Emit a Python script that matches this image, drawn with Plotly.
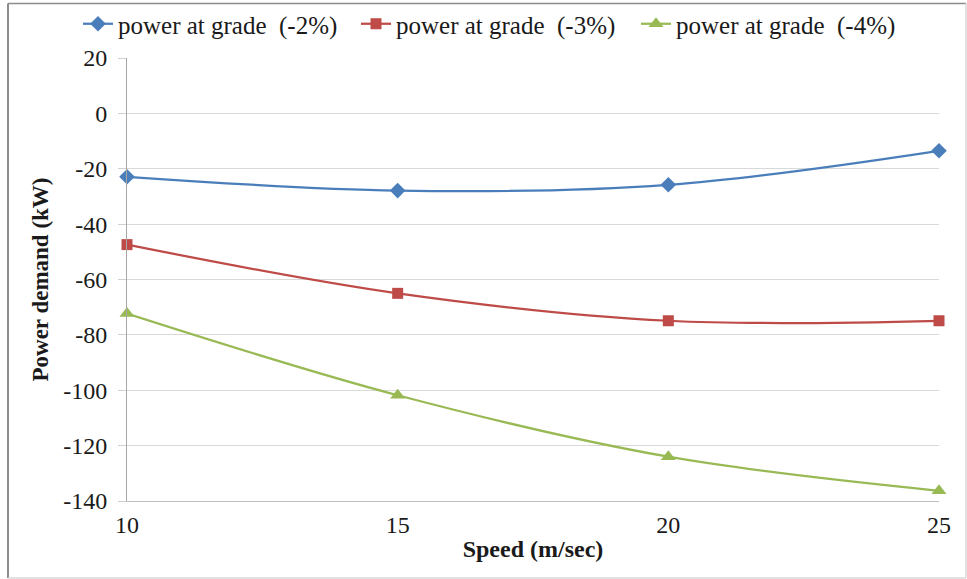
import plotly.graph_objects as go

# Speed (m/sec) and power demand (kW) on three downhill grades
speed = [10, 15, 20, 25]
power_grade_2 = [-22.9, -27.9, -25.8, -13.5]
power_grade_3 = [-47.4, -65.0, -74.9, -74.9]
power_grade_4 = [-72.3, -101.8, -124.0, -136.3]

series_names = ["power at grade\u00a0\u00a0(-2%)", "power at grade\u00a0\u00a0(-3%)", "power at grade\u00a0\u00a0(-4%)"]
y_ticks = [20, 0, -20, -40, -60, -80, -100, -120, -140]
x_ticks = [10, 15, 20, 25]

FONT = "Liberation Serif"
TXT = "#1a1a1a"

styles = [
    dict(color="#4a7ebb", symbol="diamond", size=12),
    dict(color="#be4b48", symbol="square", size=11),
    dict(color="#98b954", symbol="triangle-up", size=13),
]

# Plot area edges in pixels
L, R, T, B = 127, 939, 58, 501
W, H = 967, 579
pw, ph = R - L, B - T


def px(x):
    return (x - L) / pw


def py(y):
    return (B - y) / ph


legend_ids = ["legend", "legend2", "legend3"]
legend_left = [78, 356, 636]

fig = go.Figure()
for name, values, st, lid in zip(series_names, [power_grade_2, power_grade_3, power_grade_4], styles, legend_ids):
    fig.add_trace(go.Scatter(
        x=speed, y=values, name=name, mode="lines+markers",
        line=dict(color=st["color"], width=2.25, shape="spline", smoothing=1),
        marker=dict(symbol=st["symbol"], size=st["size"], color=st["color"]),
        legend=lid, cliponaxis=False,
    ))

legend_style = dict(
    orientation="h", xanchor="left", yanchor="middle",
    font=dict(family=FONT, size=25, color=TXT),
    bgcolor="rgba(0,0,0,0)", itemwidth=30,
)

layout_legends = {}
for lid, lx in zip(legend_ids, legend_left):
    layout_legends[lid] = dict(legend_style, x=px(lx), y=py(24))

tick_font = dict(family=FONT, size=24, color=TXT)
title_font = dict(family=FONT, size=24, color=TXT)

fig.update_layout(
    template="none",
    width=W, height=H,
    margin=dict(l=L, r=W - R, t=T, b=H - B, autoexpand=False),
    paper_bgcolor="white", plot_bgcolor="white",
    font=dict(family=FONT, size=24, color=TXT),
    showlegend=True,
    **layout_legends,
    xaxis=dict(
        range=[10, 25], tickvals=x_ticks, ticktext=[str(v) for v in x_ticks],
        showgrid=False, zeroline=False,
        showline=True, linecolor="#bfbfbf", linewidth=1,
        ticks="", ticklabelstandoff=2, tickfont=tick_font,
        title=dict(text="<b>Speed (m/sec)</b>", font=title_font, standoff=3),
    ),
    yaxis=dict(
        range=[-140, 20], tickvals=y_ticks, ticktext=[str(v) for v in y_ticks],
        showgrid=True, gridcolor="#d9d9d9", gridwidth=1, zeroline=False,
        showline=True, linecolor="#a6a6a6", linewidth=1,
        ticks="outside", ticklen=8, tickcolor="#d0d0d0",
        ticklabelstandoff=6, tickfont=tick_font,
        title=dict(text="<b>Power demand (kW)</b>", font=dict(title_font, size=23), standoff=8),
    ),
    shapes=[
        # chart frame: darker top/left, lighter right/bottom
        dict(type="line", xref="paper", yref="paper", x0=px(8), x1=px(966), y0=py(3.5), y1=py(3.5),
             line=dict(color="#8c8c8c", width=1.5)),
        dict(type="line", xref="paper", yref="paper", x0=px(8), x1=px(8), y0=py(3.5), y1=py(578),
             line=dict(color="#8c8c8c", width=2)),
        dict(type="line", xref="paper", yref="paper", x0=px(966), x1=px(966), y0=py(3.5), y1=py(578),
             line=dict(color="#d9d9d9", width=1.5)),
        dict(type="line", xref="paper", yref="paper", x0=px(8), x1=px(966), y0=py(578), y1=py(578),
             line=dict(color="#d9d9d9", width=1.5)),
    ],
)

fig.write_html("out.html")
